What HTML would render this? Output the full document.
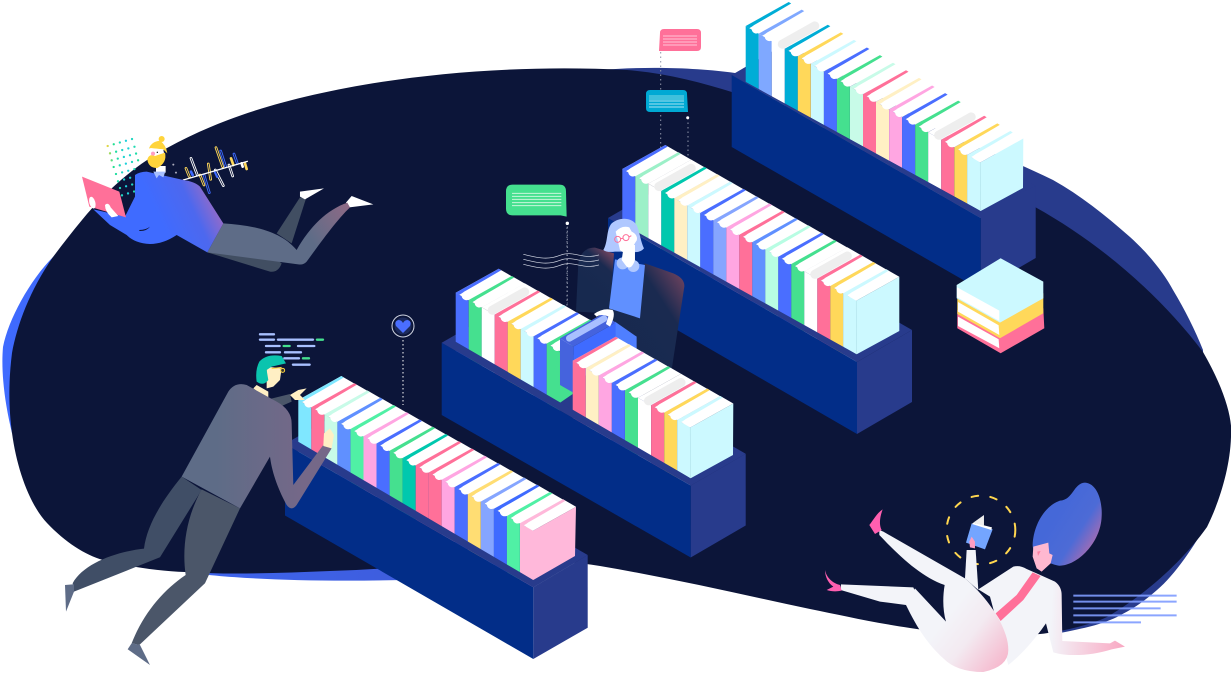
<!DOCTYPE html>
<html><head><meta charset="utf-8"><title>Library illustration</title>
<style>html,body{margin:0;padding:0;background:#fff}svg{display:block}</style></head>
<body>
<svg xmlns="http://www.w3.org/2000/svg" width="1231" height="673" viewBox="0 0 1231 673">
<defs>
<g id="b">
<polygon fill="currentColor" points="0,0 13,7.5 13,77 0,70"/>
<polygon fill="#fff" points="0,0 43,-24 56,-16.5 13,7.500"/>
<polygon fill="currentColor" points="0,0 43,-24 45.5,-22.5 3.5,2.2"/>
<line x1="10.500" y1="3" x2="43" y2="-15.300" stroke="#fff" stroke-width="9" stroke-linecap="round"/>
</g>
<g id="w">
<polygon fill="#fff" points="0,0 13,7.5 13,77 0,70"/>
<polygon fill="#fff" points="0,0 43,-24 56,-16.5 13,7.500"/>
<line x1="10.500" y1="3" x2="43" y2="-15.300" stroke="#eee" stroke-width="9" stroke-linecap="round"/>
</g>
<linearGradient id="band" gradientUnits="userSpaceOnUse" x1="0" y1="0" x2="600" y2="0"><stop offset="0" stop-color="#3f6bff"/><stop offset=".3" stop-color="#3f65f0"/><stop offset="1" stop-color="#3c56cc"/></linearGradient>
<linearGradient id="m1" gradientUnits="userSpaceOnUse" x1="300" y1="300" x2="470" y2="220"><stop offset="0" stop-color="#3f6bff"/><stop offset=".55" stop-color="#4d68ee"/><stop offset="1" stop-color="#a46cc0"/></linearGradient>
<linearGradient id="m1l" gradientUnits="userSpaceOnUse" x1="620" y1="420" x2="860" y2="260"><stop offset="0" stop-color="#5e6c87"/><stop offset=".5" stop-color="#5e6c87"/><stop offset="1" stop-color="#8c6a86"/></linearGradient>
<linearGradient id="dots" gradientUnits="userSpaceOnUse" x1="140" y1="0" x2="240" y2="0"><stop offset="0" stop-color="#ffd43b"/><stop offset=".2" stop-color="#20e090"/><stop offset=".6" stop-color="#20d0e0"/><stop offset="1" stop-color="#20e090"/></linearGradient>
<linearGradient id="m3" gradientUnits="userSpaceOnUse" x1="500" y1="400" x2="760" y2="400"><stop offset="0" stop-color="#5e6c87"/><stop offset="1" stop-color="#756888"/></linearGradient>
<linearGradient id="w2" gradientUnits="userSpaceOnUse" x1="500" y1="440" x2="730" y2="290"><stop offset="0" stop-color="#17294f"/><stop offset=".6" stop-color="#1a2a50"/><stop offset="1" stop-color="#7a4660"/></linearGradient>
<linearGradient id="w2b" gradientUnits="userSpaceOnUse" x1="430" y1="330" x2="510" y2="240"><stop offset="0" stop-color="#17294f"/><stop offset=".6" stop-color="#1a2a50"/><stop offset="1" stop-color="#7a4660"/></linearGradient>
<linearGradient id="hair" gradientUnits="userSpaceOnUse" x1="730" y1="150" x2="870" y2="240"><stop offset="0" stop-color="#4568d8"/><stop offset=".5" stop-color="#4d6bd6"/><stop offset="1" stop-color="#c06ca8"/></linearGradient>
<linearGradient id="leg" gradientUnits="userSpaceOnUse" x1="420" y1="430" x2="600" y2="570"><stop offset="0" stop-color="#f3f4f9"/><stop offset=".4" stop-color="#f3eaf1"/><stop offset="1" stop-color="#f6b5cb"/></linearGradient>
<linearGradient id="arm" gradientUnits="userSpaceOnUse" x1="720" y1="520" x2="940" y2="530"><stop offset="0" stop-color="#f3f4f9"/><stop offset="1" stop-color="#f9a9c3"/></linearGradient>
</defs>

<!-- blobs -->
<path fill="url(#band)" d="M53 257C30 280 8 320 3 347C1 370 4 400 12 433L300 400L185 572C250 582 400 585 540 572L500 300Z"/>
<path fill="#283b8c" d="M600 70C650 66 700 68 735 73C850 100 960 135 1053 180C1080 195 1105 215 1130 237C1150 255 1165 275 1173 290C1185 310 1195 330 1203 350L1207 523C1195 545 1175 575 1157 590C1140 605 1130 610 1117 617C1100 625 1085 628 1060 633Z"/>
<path fill="#0c1539" d="M53 257C62 245 72 232 82 220C105 192 135 165 167 148C187 137 207 128 228 120C320 85 470 62 627 70C665 73 700 82 735 93C830 125 950 170 1035 207C1100 243 1160 295 1203 352C1225 390 1233 420 1231 437C1230 470 1218 505 1207 527C1180 565 1140 598 1107 617C1090 625 1060 632 1040 634C1000 638 950 634 910 628C870 622 840 615 810 609C740 594 670 578 600 566C520 553 430 568 330 571C280 573 230 575 185 572C160 571 130 567 103 560C85 555 65 542 47 523C30 505 17 470 12 433C9 410 8 385 12 353C17 325 30 290 53 257Z"/>

<!-- bubbles and dotted connectors -->
<g stroke="#8e94a8" stroke-width="1" stroke-dasharray="1.5 3" fill="none">
<line x1="660.7" y1="52" x2="660.7" y2="150"/>
<line x1="688" y1="118" x2="688" y2="158"/>
<line x1="567" y1="223" x2="567" y2="310"/>
</g>
<circle cx="687.7" cy="117.7" r="1.5" fill="#fff"/>
<path fill="#ff7099" d="M664 29H697Q701 29 701 33V47Q701 51 697 51H659L660 33Q660 29 664 29Z"/>
<g stroke="#ffc4d6" stroke-width="1"><line x1="663" y1="36" x2="697" y2="36"/><line x1="663" y1="39" x2="697" y2="39"/><line x1="663" y1="42" x2="697" y2="42"/><line x1="663" y1="45" x2="697" y2="45"/></g>
<path fill="#00a9d4" d="M650 90H683Q687 90 687 94L688 112H650Q646 112 646 108V94Q646 90 650 90Z"/>
<rect x="649" y="95" width="35" height="5" fill="#3fc0dc"/>
<g stroke="#a8e4f2" stroke-width="1"><line x1="649" y1="101" x2="684" y2="101"/><line x1="649" y1="104" x2="684" y2="104"/><line x1="649" y1="107" x2="684" y2="107"/></g>

<!-- shelf row 1 -->
<polygon fill="#283b8c" points="731.7,75 786.7,43 1035.7,186 980.7,218"/>
<g>
<use href="#b" x="745.7" y="26" color="#00add6"/><use href="#b" x="758.7" y="33.6" color="#7fa8ff"/><use href="#w" x="771.8" y="41.2"/><use href="#b" x="784.8" y="48.8" color="#00add6"/><use href="#b" x="797.8" y="56.4" color="#ffd85a"/><use href="#b" x="810.9" y="63.9" color="#ccf9ff"/><use href="#b" x="823.9" y="71.5" color="#4a6eff"/><use href="#b" x="836.9" y="79.1" color="#45e08f"/><use href="#b" x="850" y="86.7" color="#c8fbe8"/><use href="#b" x="863" y="94.3" color="#ff7099"/><use href="#b" x="876" y="101.9" color="#fff0c4"/><use href="#b" x="889.1" y="109.5" color="#ffa6e2"/><use href="#b" x="902.1" y="117.1" color="#4a6eff"/><use href="#b" x="915.2" y="124.6" color="#45e08f"/><use href="#w" x="928.2" y="132.2"/><use href="#b" x="941.2" y="139.8" color="#ff7099"/><use href="#b" x="954.3" y="147.4" color="#ffd85a"/><use href="#b" x="967.3" y="155" color="#ccf9ff"/>
</g>
<polygon fill="#283b8c" points="731.7,75 745.7,82 980.7,211 1035.7,186 1035.7,258 980.7,290 980.7,218"/>
<polygon fill="#022d88" points="731.7,75 980.7,218 980.7,290 731.7,147"/>
<polygon fill="#283b8c" points="731.7,75 745.7,82 980.7,211 980.7,218"/>
<polygon fill="#ccf9ff" points="980.3,162.500 1023.300,138.500 1023,188 980.7,211 967.3,203 967.3,155"/>
<line x1="980.3" y1="162.500" x2="980.5" y2="211" stroke="#b4e4ec" stroke-width=".7"/>

<!-- stack of books -->
<g transform="translate(730 0) scale(.3333)">
<polygon fill="#ff7099" points="682,930 808,1003 940,925 943,985 812,1060 682,985"/>
<polygon fill="#fff" points="684,950 806,1018 808,1045 684,978"/>
<polygon fill="#ffd85a" points="682,885 808,958 940,880 940,940 810,1015 682,942"/>
<polygon fill="#fff" points="684,906 806,976 808,1005 684,935"/>
<polygon fill="#ccf9ff" points="680,855 812,775 940,845 940,895 810,968 680,895"/>
<polygon fill="#fff" points="681,862 808,932 808,963 681,892"/>
</g>

<!-- shelf row 2 -->
<polygon fill="#283b8c" points="608,218 663,186 912,330 857,362"/>
<g>
<use href="#b" x="622.3" y="169" color="#4a6eff"/><use href="#b" x="635.3" y="176.3" color="#9cf0c8"/><use href="#w" x="648.3" y="183.6"/><use href="#b" x="661.3" y="190.9" color="#00c8ae"/><use href="#b" x="674.3" y="198.2" color="#fff0c4"/><use href="#b" x="687.3" y="205.6" color="#ccf9ff"/><use href="#b" x="700.3" y="212.9" color="#4a6eff"/><use href="#b" x="713.3" y="220.2" color="#85a5ff"/><use href="#b" x="726.3" y="227.5" color="#ffa6e2"/><use href="#b" x="739.3" y="234.8" color="#ff7099"/><use href="#b" x="752.3" y="242.1" color="#6090ff"/><use href="#b" x="765.3" y="249.4" color="#b8fde3"/><use href="#b" x="778.3" y="256.7" color="#4a6eff"/><use href="#b" x="791.3" y="264" color="#45e08f"/><use href="#w" x="804.3" y="271.3"/><use href="#b" x="817.3" y="278.6" color="#ff7099"/><use href="#b" x="830.3" y="286" color="#ffd85a"/><use href="#b" x="843.3" y="293.3" color="#ccf9ff"/>
</g>
<polygon fill="#283b8c" points="857,362 912,330 912,402 857,434"/>
<polygon fill="#022d88" points="608,218 857,362 857,434 608,290"/>
<polygon fill="#283b8c" points="608,218 622,223.5 856.7,354.3 857,362"/>
<polygon fill="#ccf9ff" points="856.3,300.800 899.300,276.800 899.3,331 856.7,354.3 843.3,346 843.3,293.3"/>
<line x1="856.3" y1="300.800" x2="856.500" y2="354" stroke="#b4e4ec" stroke-width=".7"/>

<!-- green bubble and woman at desk -->
<g transform="translate(440 170) scale(.3333)">
<path fill="#45e08f" d="M218 44H358Q378 44 378 64L380 140L362 136H218Q198 136 198 116V64Q198 44 218 44Z"/>
<g stroke="#c8f6dc" stroke-width="3"><line x1="216" y1="70" x2="364" y2="70"/><line x1="216" y1="79" x2="364" y2="79"/><line x1="216" y1="88" x2="364" y2="88"/><line x1="216" y1="98" x2="364" y2="98"/><line x1="216" y1="107" x2="364" y2="107"/></g>
<circle cx="382" cy="160" r="5" fill="#fff"/>
<line x1="382" y1="170" x2="382" y2="400" stroke="#8e94a8" stroke-width="3" stroke-dasharray="4 8"/>
<path fill="url(#w2b)" d="M408 425L415 280Q425 232 465 233L522 250L510 430Z"/>
<path fill="url(#w2)" d="M615 280L700 310Q735 325 733 350L695 600L520 520L507 415Z"/>
<path fill="#4f7fff" d="M525 455L590 500V540L500 520Z"/>
<polygon fill="#6090ff" points="525,268 615,285 600,445 507,415"/>
<path fill="#b0c8ff" d="M490 240C505 215 498 180 515 160C540 140 575 142 590 165C600 190 602 215 612 235Q600 250 575 245L525 245Q500 248 490 240Z"/>
<circle cx="548" cy="280" r="18" fill="#b0c8ff"/><circle cx="580" cy="288" r="18" fill="#b0c8ff"/>
<path fill="#fff" d="M552 225H585V270Q575 300 560 290L545 270Z"/>
<path fill="#fff" d="M527 185Q545 165 568 172L575 185Q595 195 590 212Q580 225 575 240Q555 255 540 240Z"/>
<g fill="none" stroke="#ff6f98" stroke-width="3"><circle cx="533" cy="208" r="9"/><circle cx="558" cy="203" r="9"/><line x1="542" y1="206" x2="549" y2="205"/><line x1="567" y1="201" x2="574" y2="197"/></g>
<g fill="none" stroke="#d8dce8" stroke-width="2"><path d="M250 253C290 262 320 272 360 256S430 270 477 255"/><path d="M250 268C290 277 320 287 360 271S430 285 477 270"/><path d="M250 283C290 292 320 302 360 286S430 300 477 285"/></g>
</g>

<!-- shelf row 3 -->
<polygon fill="#283b8c" points="441.7,342.7 496.7,311 745.7,453.7 690.7,485.5"/>
<g>
<use href="#b" x="455.7" y="292.7" color="#4a6eff"/><use href="#b" x="468.7" y="300" color="#45e08f"/><use href="#w" x="481.7" y="307.2"/><use href="#b" x="494.7" y="314.5" color="#ff7099"/><use href="#b" x="507.7" y="321.7" color="#ffd85a"/><use href="#b" x="520.7" y="329" color="#ccf9ff"/><use href="#b" x="533.7" y="336.2" color="#4a6eff"/><use href="#b" x="546.7" y="343.5" color="#45e08f"/>
</g>
<polygon fill="#45e08f" points="560,351 572.7,344 572.7,394 560,402.7 546.7,395"/>
<!-- standing book -->
<g transform="translate(440 170) scale(.3333)">
<polygon fill="#3f6bff" points="400,530 527,458 527,560 400,640"/>
<polygon fill="#4563dd" points="360,505 400,530 400,668 360,645"/>
<polygon fill="#4563dd" points="360,505 490,430 527,458 400,530"/>
<line x1="388" y1="505" x2="492" y2="446" stroke="#a8bfff" stroke-width="20" stroke-linecap="round"/>
<path fill="#fff" d="M462 432Q490 412 518 420Q528 435 510 470L498 462L505 440Q485 430 470 440Z"/>
</g>
<g>
<use href="#b" x="572.7" y="360.7" color="#ff7099"/><use href="#b" x="585.8" y="368.1" color="#fff0c4"/><use href="#b" x="598.8" y="375.5" color="#ffa6e2"/><use href="#b" x="611.9" y="382.9" color="#4a6eff"/><use href="#b" x="625" y="390.3" color="#45e08f"/><use href="#w" x="638" y="397.8"/><use href="#b" x="651.1" y="405.2" color="#ff7099"/><use href="#b" x="664.2" y="412.6" color="#ffd85a"/><use href="#b" x="677.3" y="420" color="#ccf9ff"/>
</g>
<polygon fill="#283b8c" points="690.7,485.5 745.7,453.7 745.7,525.5 690.7,557.5"/>
<polygon fill="#022d88" points="441.7,342.7 690.7,485.5 690.7,557.5 441.7,415"/>
<polygon fill="#283b8c" points="441.7,342.7 455.7,341.7 690.7,478.3 745.7,453.7 690.7,485.5"/>
<polygon fill="#ccf9ff" points="690.300,427.500 733.300,403.500 733,455 690.7,478.3 677.3,470 677.3,420"/>
<line x1="690.3" y1="427.500" x2="690.5" y2="478" stroke="#b4e4ec" stroke-width=".7"/>

<!-- heart marker -->
<circle cx="403" cy="326" r="11" fill="none" stroke="#cfd3e0" stroke-width="1"/>
<circle cx="403" cy="326" r="8.5" fill="#1c2a5c"/>
<path fill="#4a6eff" d="M403 333L396 326Q394 321 398.500 320Q401.500 320 403 323Q404.500 320 407.500 320Q412 321 410 326Z"/>
<line x1="403" y1="340" x2="403" y2="405" stroke="#fff" stroke-width="1" stroke-dasharray="1.5 2.500"/>

<!-- shelf row 4 -->
<polygon fill="#283b8c" points="285,444 340,412 587.700,555 533.300,587.300"/>
<g>
<use href="#b" x="298.3" y="400" color="#7fe7ff"/><use href="#b" x="311.3" y="407.3" color="#ff7099"/><use href="#b" x="324.4" y="414.5" color="#c8fbe8"/><use href="#b" x="337.4" y="421.8" color="#6090ff"/><use href="#b" x="350.5" y="429" color="#50f0a5"/><use href="#b" x="363.5" y="436.3" color="#ffa6e2"/><use href="#b" x="376.5" y="443.5" color="#4a6eff"/><use href="#b" x="389.6" y="450.8" color="#45e08f"/><use href="#b" x="402.6" y="458" color="#00c8ae"/><use href="#b" x="415.7" y="465.3" color="#ff7099"/><use href="#b" x="428.7" y="472.5" color="#ff7099"/><use href="#b" x="441.7" y="479.8" color="#ffa6e2"/><use href="#b" x="454.8" y="487" color="#4a6eff"/><use href="#b" x="467.8" y="494.3" color="#ffdd73"/><use href="#b" x="480.9" y="501.5" color="#85a5ff"/><use href="#b" x="493.9" y="508.8" color="#3f6bff"/><use href="#b" x="506.9" y="516" color="#50f0a5"/><use href="#b" x="520" y="523.3" color="#ffb8da"/>
</g>
<polygon fill="#283b8c" points="533.300,587.300 587.700,555 587.700,627.700 533.300,659"/>
<polygon fill="#022d88" points="285,444 533.300,587.300 533.300,659 285,515.500"/>
<polygon fill="#283b8c" points="285,444 298.300,441.700 533.300,580 587.700,555 533.300,587.300"/>
<polygon fill="#ffb8da" points="533,530.800 576,506.800 575,556 533.300,580 520,571.700 520,523.300"/>

<!-- man at shelf -->
<g transform="translate(50 320) scale(.3333)">
<g stroke="#a8c0ff" stroke-width="7" stroke-linecap="round"><line x1="630" y1="43" x2="672" y2="43"/><line x1="630" y1="59" x2="672" y2="59"/><line x1="684" y1="59" x2="789" y2="59"/><line x1="648" y1="78" x2="689" y2="78"/><line x1="744" y1="78" x2="793" y2="78"/><line x1="648" y1="97" x2="690" y2="97"/><line x1="705" y1="97" x2="753" y2="97"/><line x1="703" y1="115" x2="747" y2="115"/><line x1="729" y1="134" x2="779" y2="134"/></g>
<g stroke="#45e08f" stroke-width="7" stroke-linecap="round"><line x1="801" y1="59" x2="819" y2="59"/><line x1="701" y1="78" x2="719" y2="78"/><line x1="759" y1="115" x2="777" y2="115"/></g>
<path fill="#404e66" d="M395 470C330 550 290 620 282 686C200 695 100 730 68 790L72 815L330 712L455 510Z"/>
<polygon fill="#5e6c87" points="45,795 72,793 72,815 48,875"/>
<path fill="#4b5669" d="M455 508L570 565L465 790L268 975L245 970C280 880 340 810 407 765C395 680 410 590 455 508Z"/>
<polygon fill="#5e6c87" points="245,970 270,975 300,1035 233,988"/>
<polygon fill="#4b5669" points="655,238 720,222 725,245 695,258"/>
<path fill="#ffefc4" d="M720 225L745 210L770 205L750 225L765 240L735 240Z"/>
<path fill="#ffefc4" d="M620 195L655 215V240L610 205Z"/>
<path fill="#ffefc4" d="M650 140L695 145L690 180L670 200L650 205Z"/>
<path fill="#0bc4ae" d="M628 125Q650 100 695 108L708 130L665 140L650 150L655 180Q640 200 620 185Q615 150 628 125Z"/>
<path fill="none" stroke="#ffd43b" stroke-width="3" d="M665 146L695 142"/><circle cx="698" cy="151" r="6" fill="#333" stroke="#ffd43b" stroke-width="3"/>
<path fill="url(#m3)" d="M395 470L535 215Q555 185 590 195L680 245Q725 270 725 310L730 495L820 375L845 385L740 555Q725 575 710 555C680 500 665 450 660 410L570 565Z"/>
<path fill="#ffefc4" d="M820 378L822 340L840 325L852 345L845 385Z"/>
</g>

<!-- floating man -->
<g transform="translate(60 120) scale(.3333)">
<g fill="none" stroke="url(#dots)" stroke-width="7" stroke-linecap="round" stroke-dasharray="0 19">
<line x1="143" y1="78" x2="220" y2="56"/><line x1="150" y1="100" x2="232" y2="78"/><line x1="155" y1="121" x2="238" y2="98"/><line x1="161" y1="141" x2="245" y2="118"/><line x1="168" y1="162" x2="232" y2="145"/><line x1="174" y1="184" x2="215" y2="172"/><line x1="180" y1="204" x2="222" y2="192"/><line x1="186" y1="226" x2="224" y2="214"/>
</g>
<path fill="#414e62" d="M650 340L720 232L738 236L695 370Z"/>
<path fill="#414e62" d="M442 397L630 455Q655 458 665 430L600 380Z"/>
<polygon fill="#fff" points="720,215 792,205 735,238 720,230"/>
<polygon fill="#fff" points="875,228 940,253 868,262 858,248"/>
<g stroke-linecap="round" fill="none">
<g stroke-width="8">
<line x1="378" y1="145" x2="388" y2="170" stroke="#ffd85a"/><line x1="393" y1="155" x2="398" y2="165" stroke="#3f6bff"/><line x1="393" y1="115" x2="412" y2="165" stroke="#fff"/><line x1="420" y1="165" x2="432" y2="195" stroke="#ffd85a"/><line x1="432" y1="165" x2="448" y2="218" stroke="#3f6bff"/><line x1="445" y1="132" x2="452" y2="178" stroke="#ffd85a"/><line x1="466" y1="150" x2="490" y2="197" stroke="#fff"/><line x1="468" y1="83" x2="488" y2="140" stroke="#ffd85a"/><line x1="482" y1="93" x2="497" y2="140" stroke="#3f6bff"/><line x1="465" y1="155" x2="472" y2="170" stroke="#3f6bff"/><line x1="507" y1="135" x2="518" y2="168" stroke="#fff"/><line x1="513" y1="115" x2="520" y2="135" stroke="#ffd85a"/><line x1="522" y1="102" x2="532" y2="130" stroke="#3f6bff"/><line x1="545" y1="130" x2="548" y2="140" stroke="#fff"/><line x1="555" y1="130" x2="560" y2="147" stroke="#ffd85a"/>
</g>
<g stroke-width="2.500" stroke="#0c1539">
<line x1="378" y1="145" x2="388" y2="170"/><line x1="393" y1="115" x2="412" y2="165"/><line x1="420" y1="165" x2="432" y2="195"/><line x1="432" y1="165" x2="448" y2="218"/><line x1="445" y1="132" x2="452" y2="178"/><line x1="466" y1="150" x2="490" y2="197"/><line x1="468" y1="83" x2="488" y2="140"/><line x1="482" y1="93" x2="497" y2="140"/><line x1="507" y1="135" x2="518" y2="168"/><line x1="522" y1="102" x2="532" y2="130"/>
</g>
<line x1="370" y1="180" x2="562" y2="124" stroke="#fff" stroke-width="4"/>
</g>
<circle cx="340" cy="134" r="3" fill="#aab"/><circle cx="348" cy="158" r="3" fill="#aab"/>
<path fill="#fff" d="M288 138H317V158H288Z"/>
<circle cx="305" cy="57" r="9" fill="#ffd43b"/>
<path fill="#ffd43b" d="M267 85Q275 65 300 62Q318 75 322 100L310 88L275 85Z"/>
<path fill="#fff" d="M271 84L310 88L314 110L272 112Z"/>
<path fill="#ffd43b" d="M262 118Q268 100 285 108L315 98Q322 128 292 144Q265 144 262 118Z"/>
<circle cx="279" cy="101" r="6" fill="#ff9ec2"/><circle cx="292" cy="97" r="2" fill="#111"/>
<path fill="url(#m1l)" d="M490 310C570 315 660 330 710 390C750 320 800 270 862 248L870 262C830 300 780 370 740 425Q730 436 715 433L442 397Z"/>
<path fill="url(#m1)" d="M225 165Q240 155 260 155L370 180Q405 185 420 200L490 310L442 397L350 345Q310 372 270 372Q225 370 200 345L150 315L100 268L195 290L225 230Z"/>
<path fill="#0c1539" d="M238 330Q258 330 270 320Q260 334 238 333Z"/>
<polygon fill="#a8c0ff" points="280,155 316,155 310,172 297,165 290,175"/>
<polygon fill="#ff7099" points="66,170 178,215 198,292 88,260"/>
<ellipse cx="97" cy="248" rx="9" ry="18" fill="#fff" transform="rotate(-15 97 248)"/>
<path fill="#fff" d="M135 255Q145 245 152 262L175 288L155 292Q135 275 135 255Z"/>
</g>

<!-- reclining woman -->
<g transform="translate(810 470) scale(.3333)">
<circle cx="513" cy="180" r="103" fill="none" stroke="#ffd64f" stroke-width="6" stroke-dasharray="20 37" stroke-linecap="round"/>
<path fill="url(#hair)" d="M668 225C670 170 700 110 750 92C790 90 790 40 825 38C860 40 878 90 875 140C872 220 800 290 745 287C715 280 668 260 668 225Z"/>
<path fill="#ffb8d0" d="M670 230L715 218L718 250L728 255L722 280L695 305L680 295L668 260Z"/>
<path fill="#ff7fa2" d="M682 245L692 243L684 258Z"/>
<path fill="url(#arm)" d="M505 358L610 290Q630 285 650 297L680 310L735 335Q755 350 755 375L757 513L900 520L915 512L945 530L905 538C850 555 780 562 730 547L708 460C680 500 640 550 595 585L540 380Z"/>
<polygon fill="#ff7099" points="668,307 692,318 640,390 572,453 557,430 620,375"/>
<path fill="#f3f4f9" d="M465 325L470 240H497L505 360Z"/>
<polygon fill="#f3f4f9" points="93,343 310,352 330,400 288,405 210,395 92,360"/>
<path fill="url(#leg)" d="M208 180L220 185L465 325C530 380 595 470 595 540Q595 590 520 606Q440 606 400 565C350 520 320 470 288 405L315 355L408 455C398 420 398 380 404 345C330 320 260 250 208 195Z"/>
<path fill="#74a5ff" d="M485 160L548 178L525 238L468 218Z"/>
<polygon fill="#fff" points="490,158 546,172 544,180 486,162"/>
<polygon fill="#eee" points="490,158 522,135 522,168"/>
<path fill="#ff9ec2" d="M478 215L485 200L495 215V235L480 232Z"/>
<path fill="#ff5fb0" d="M218 118C200 130 190 150 178 165L195 192L215 180C205 160 212 135 218 118Z"/>
<path fill="#ff5fb0" d="M45 300C50 325 70 340 90 345L95 362C80 365 65 365 50 360L70 350C55 340 45 320 45 300Z"/>
<g stroke="#7f9cff" stroke-width="6" opacity=".9"><line x1="790" y1="377" x2="1100" y2="377"/><line x1="790" y1="395" x2="1100" y2="395"/><line x1="790" y1="415" x2="1052" y2="415"/><line x1="790" y1="436" x2="1100" y2="436"/><line x1="790" y1="457" x2="993" y2="457"/></g>
</g>
</svg>
</body></html>
